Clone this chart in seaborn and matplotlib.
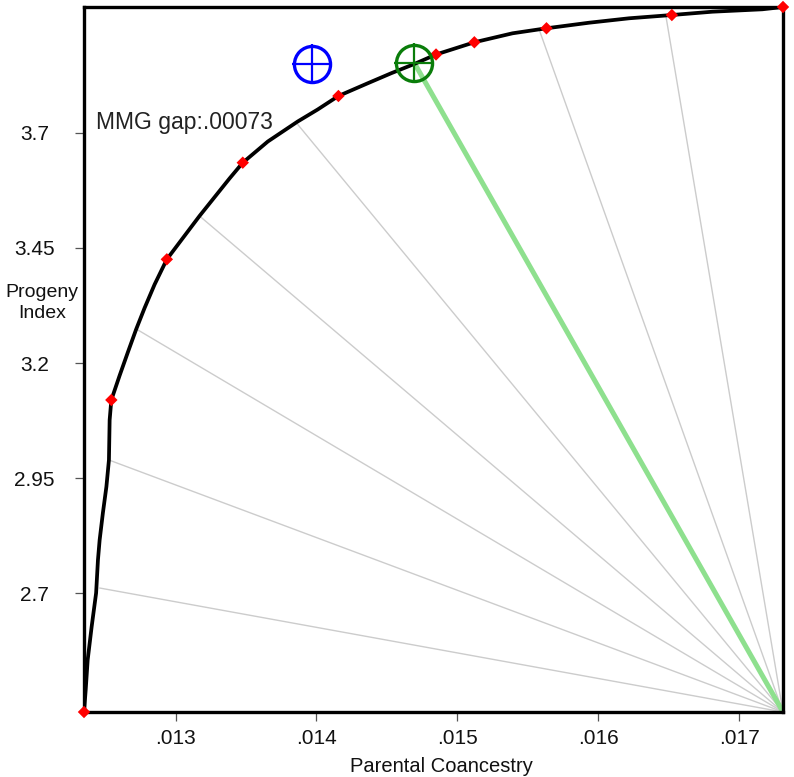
import numpy as np
import pandas as pd
import matplotlib
matplotlib.use("Agg")
import matplotlib.pyplot as plt
import matplotlib.ticker as mticker
import seaborn as sns

# frontier curve (parental coancestry vs progeny index)
curve_x = [0.012350, 0.012362, 0.012376, 0.012404, 0.012436, 0.012449, 0.012461,
           0.012484, 0.012509, 0.012527, 0.012532, 0.012544, 0.012603, 0.012662,
           0.012721, 0.012780, 0.012851, 0.012938, 0.013052, 0.013170, 0.013289,
           0.013383, 0.013477, 0.013655, 0.013867, 0.014009, 0.014156, 0.014364,
           0.014530, 0.014695, 0.014849, 0.015121, 0.015392, 0.015633, 0.015936,
           0.016220, 0.016523, 0.016811, 0.017165, 0.017312]
curve_y = [2.4423, 2.4901, 2.5552, 2.6268, 2.7007, 2.7723, 2.8157, 2.8743, 2.9314,
           2.9894, 3.0762, 3.1197, 3.1729, 3.2239, 3.2738, 3.3194, 3.3704, 3.4251,
           3.4714, 3.5192, 3.5647, 3.6006, 3.6349, 3.6809, 3.7243, 3.7504, 3.7797,
           3.8073, 3.8290, 3.8492, 3.8698, 3.8963, 3.9158, 3.9267, 3.9388, 3.9484,
           3.9555, 3.9627, 3.9679, 3.9729]

# red solution points on the frontier
sol_x = [0.012350, 0.012544, 0.012938, 0.013477, 0.014156, 0.014849, 0.015121,
         0.015633, 0.016523, 0.017312]
sol_y = [2.4423, 3.1197, 3.4251, 3.6349, 3.7797, 3.8698, 3.8963, 3.9267, 3.9555,
         3.9729]

# fan of grey lines from the lower-right corner to the curve
fan_x = [0.012461, 0.012527, 0.012721, 0.013170, 0.013867, 0.015582, 0.016482]
fan_y = [2.7115, 2.9894, 3.2738, 3.5192, 3.7180, 3.9230, 3.9510]

# chosen (green) and target (blue) points
best_x, best_y = 0.014695, 3.8513
target_x, target_y = 0.013972, 3.850

gap_label = "MMG gap:.00073"
x_ticks = [0.013, 0.014, 0.015, 0.016, 0.017]
y_ticks = [2.7, 2.95, 3.2, 3.45, 3.7]
y_tick_labels = ["2.7", "2.95", "3.2", "3.45", "3.7"]

sns.set_theme(style="white")
plt.rcParams["font.family"] = ["Liberation Sans", "DejaVu Sans"]

fig = plt.figure(figsize=(7.94, 7.77), dpi=100)
ax = fig.add_axes([84 / 794, 1 - 712 / 777, (783 - 84) / 794, (712 - 7) / 777])

x0, x1 = min(curve_x), max(curve_x)
y0, y1 = min(curve_y), max(curve_y)
ox, oy = x1, y0  # fan origin: lower-right corner

for fx, fy in zip(fan_x, fan_y):
    ax.plot([ox, fx], [oy, fy], color="#cccccc", lw=1.0, zorder=1)
ax.plot([ox, best_x], [oy, best_y], color="#8ee08e", lw=3.6, zorder=2,
        solid_capstyle="butt")

df = pd.DataFrame({"x": curve_x, "y": curve_y})
sns.lineplot(data=df, x="x", y="y", sort=False, color="black", lw=2.7, ax=ax,
             zorder=3)
sns.scatterplot(x=sol_x, y=sol_y, marker="D", s=40, color="red", edgecolor="none",
                ax=ax, zorder=5, clip_on=False)

for px, py, c in [(target_x, target_y, "#0000ff"), (best_x, best_y, "#0a7d0a")]:
    ax.plot(px, py, marker="o", ms=26, mfc="none", mec=c, mew=2.4, zorder=6)
    ax.plot(px, py, marker="+", ms=29, mec=c, mew=1.6, zorder=6)

ax.text(0.012433, 3.7232, gap_label, fontsize=16.5, color="#222222",
        ha="left", va="center")

ax.set_xlim(x0, x1)
ax.set_ylim(y0, y1)
ax.set_xticks(x_ticks)
ax.xaxis.set_major_formatter(mticker.FuncFormatter(lambda v, p: f"{v:.3f}".lstrip("0")))
ax.set_yticks(y_ticks)
ax.set_yticklabels(y_tick_labels)
ax.set_xlabel("")
ax.set_ylabel("")

for s in ax.spines.values():
    s.set_visible(True)
    s.set_color("black")
    s.set_linewidth(2.4)

ax.tick_params(axis="both", direction="out", length=6.5, width=0.9, color="#555555",
               labelsize=15, labelcolor="#111111", bottom=True, left=True)
ax.tick_params(axis="x", pad=6)
ax.tick_params(axis="y", pad=29)
for lbl in ax.get_yticklabels():
    lbl.set_horizontalalignment("center")

fig.text(42 / 794, 1 - 303 / 777, "Progeny\nIndex", fontsize=14, ha="center",
         va="center", linespacing=1.35, color="#111111")
fig.text(441 / 794, 1 - 767 / 777, "Parental Coancestry", fontsize=14.5,
         ha="center", va="center", color="#111111")

fig.savefig("out.png", dpi=100)
